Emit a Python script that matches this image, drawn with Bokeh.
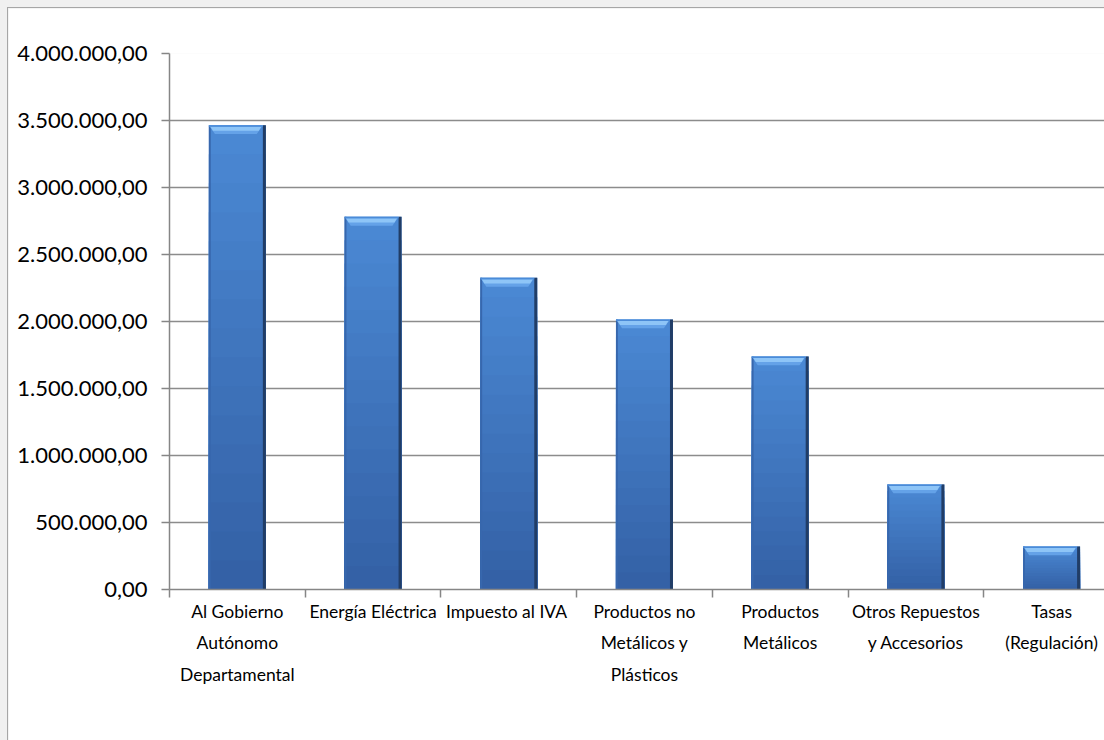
from bokeh.plotting import figure
from bokeh.models import Range1d, FixedTicker
from bokeh.embed import file_html
from bokeh.resources import INLINE

try:
    from bokeh.models import GlobalInlineStyleSheet
except Exception:
    GlobalInlineStyleSheet = None

# ---- data ----
categories = [
    "Al Gobierno\nAutónomo\nDepartamental",
    "Energía Eléctrica",
    "Impuesto al  IVA",
    "Productos no\nMetálicos y\nPlásticos",
    "Productos\nMetálicos",
    "Otros Repuestos\ny Accesorios",
    "Tasas\n(Regulación)",
]
values = [3465000, 2781000, 2326000, 2015000, 1739000, 784000, 321000]
y_ticks = [0, 500000, 1000000, 1500000, 2000000, 2500000, 3000000, 3500000, 4000000]
y_tick_labels = ["0,00", "500.000,00", "1.000.000,00", "1.500.000,00", "2.000.000,00",
                 "2.500.000,00", "3.000.000,00", "3.500.000,00", "4.000.000,00"]

FONT = "Lato"
n = len(categories)
centers = [i + 0.5 for i in range(n)]
bounds = [float(i) for i in range(n + 1)]
BW = 0.42

p = figure(width=1096, height=732, output_backend="svg", toolbar_location=None,
           x_range=Range1d(0, 6.89), y_range=Range1d(0, 4000000),
           min_border_left=161, min_border_top=45, min_border_right=0, min_border_bottom=151)
p.background_fill_color = "white"
p.border_fill_color = "white"
p.outline_line_color = None
p.styles = {"outline": "1px solid #a6a6a6", "margin-left": "8px", "margin-top": "8px"}
if GlobalInlineStyleSheet is not None:
    p.stylesheets = [GlobalInlineStyleSheet(css="body { background: #f0f0f0; overflow: hidden; }")]

# grid
p.xgrid.grid_line_color = None
p.ygrid.ticker = FixedTicker(ticks=y_ticks)
p.ygrid.grid_line_color = "#8c8c8c"
p.ygrid.grid_line_width = 1.5

# y axis
p.yaxis.ticker = FixedTicker(ticks=y_ticks)
p.yaxis.major_label_overrides = {t: l for t, l in zip(y_ticks, y_tick_labels)}
p.yaxis.axis_line_color = "#868686"
p.yaxis.axis_line_width = 1.5
p.yaxis.major_tick_line_color = "#868686"
p.yaxis.major_tick_line_width = 1.5
p.yaxis.major_tick_out = 8
p.yaxis.major_tick_in = 0
p.yaxis.minor_tick_line_color = None
p.yaxis.major_label_text_font = FONT
p.yaxis.major_label_text_font_size = "22px"
p.yaxis.major_label_text_color = "black"
p.yaxis.major_label_standoff = 14

# x axis
p.xaxis.ticker = FixedTicker(ticks=centers, minor_ticks=bounds)
p.xaxis.major_label_overrides = {c: l for c, l in zip(centers, categories)}
p.xaxis.axis_line_color = "#868686"
p.xaxis.axis_line_width = 1.5
p.xaxis.major_tick_line_color = None
p.xaxis.major_tick_out = 8
p.xaxis.major_tick_in = 0
p.xaxis.minor_tick_line_color = "#868686"
p.xaxis.minor_tick_line_width = 1.5
p.xaxis.minor_tick_out = 8
p.xaxis.minor_tick_in = 0
p.xaxis.major_label_text_font = FONT
p.xaxis.major_label_text_font_size = "17.5px"
p.xaxis.major_label_text_color = "black"
p.xaxis.major_label_text_line_height = 1.5
p.xaxis.major_label_standoff = 3

# ---- bars with vertical gradient (overlapping layers, lightest first) ----
N = 16
def lerp(c1, c2, t):
    a = [int(c1[i:i + 2], 16) for i in (1, 3, 5)]
    b = [int(c2[i:i + 2], 16) for i in (1, 3, 5)]
    return "#%02x%02x%02x" % tuple(round(a[k] + (b[k] - a[k]) * t) for k in range(3))

ql, qr, qb, qt, qc = [], [], [], [], []
for k in range(N, 0, -1):
    for c, v in zip(centers, values):
        ql.append(c - BW / 2)
        qr.append(c + BW / 2)
        qb.append(0)
        qt.append(v * k / N)
        qc.append(lerp("#3461a6", "#4a88d3", (k - 1) / (N - 1)))
p.quad(left=ql, right=qr, bottom=qb, top=qt, fill_color=qc, line_color=None)

# side edges
EDGE = 0.022
p.quad(left=[c + BW / 2 - EDGE for c in centers], right=[c + BW / 2 for c in centers],
       bottom=[0] * n, top=values, fill_color="#213d66", line_color=None)
p.quad(left=[c - BW / 2 for c in centers], right=[c - BW / 2 + 0.014 for c in centers],
       bottom=[0] * n, top=values, fill_color="#3767ad", line_color=None)

# top bevel cap
CAP = 66000
INSET = 0.045
xs, ys = [], []
for c, v in zip(centers, values):
    xs.append([c - BW / 2, c + BW / 2 - EDGE, c + BW / 2 - EDGE - INSET, c - BW / 2 + INSET])
    ys.append([v, v, v - CAP, v - CAP])
p.patches(xs=xs, ys=ys, fill_color="#64a2e8", line_color=None)
xs2, ys2 = [], []
for c, v in zip(centers, values):
    xs2.append([c - BW / 2 + 0.012, c + BW / 2 - EDGE - 0.012, c + BW / 2 - EDGE - 0.03, c - BW / 2 + 0.03])
    ys2.append([v - 12000, v - 12000, v - 42000, v - 42000])
p.patches(xs=xs2, ys=ys2, fill_color="#8ec5f7", line_color=None)
p.quad(left=[c - BW / 2 for c in centers], right=[c + BW / 2 - EDGE for c in centers],
       bottom=[v - 11000 for v in values], top=values, fill_color="#4b8bd8", line_color=None)

open("out.html", "w").write(file_html(p, INLINE))
